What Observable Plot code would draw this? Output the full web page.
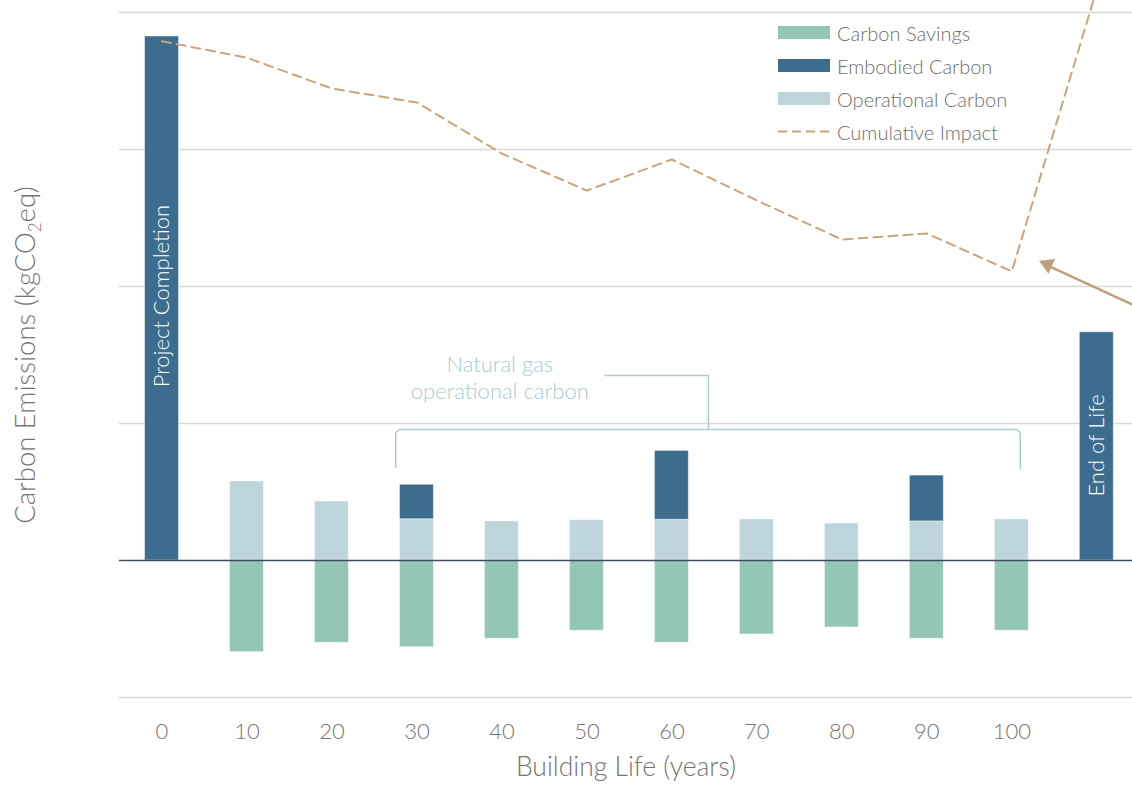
<!DOCTYPE html>
<html><head><meta charset="utf-8">
<script src="https://cdn.jsdelivr.net/npm/d3@7"></script>
<script src="https://cdn.jsdelivr.net/npm/@observablehq/plot@0.6"></script>
<style>
body{margin:0;background:#fff;font-family:Lato,"Open Sans",sans-serif;}
#wrap{position:relative;width:1132px;height:789px;overflow:hidden;}
#border{position:absolute;left:1px;top:0;width:1px;height:789px;background:#c4c4c4;}
.legend{position:absolute;left:778px;top:16px;font-weight:300;font-size:20px;color:#6e6e6e;}
.row{display:flex;align-items:center;height:33px;}
.sw{width:52px;height:13px;margin-right:7px;}
</style>
</head><body><div id="wrap"><div id="border"></div></div>
<script>
// ---- data ----
const years       = [0, 10, 20, 30, 40, 50, 60, 70, 80, 90, 100, 110];
const operational = [0, 0.577, 0.431, 0.301, 0.285, 0.294, 0.297, 0.300, 0.270, 0.285, 0.300, 0];
const embodied    = [3.825, 0, 0, 0.252, 0, 0, 0.503, 0, 0, 0.335, 0, 1.666];
const savings     = [0, -0.669, -0.601, -0.633, -0.572, -0.513, -0.601, -0.540, -0.489, -0.572, -0.513, 0];
const cumulative  = [3.79, 3.67, 3.445, 3.343, 2.97, 2.70, 2.927, 2.628, 2.343, 2.387, 2.11, 4.17];
const xTicks      = [0, 10, 20, 30, 40, 50, 60, 70, 80, 90, 100];
const gridValues  = [-1, 1, 2, 3, 4];
const seriesNames = ["Carbon Savings", "Embodied Carbon", "Operational Carbon", "Cumulative Impact"];
const barLabels   = [{year: 0, y: 1.93, text: "Project Completion"}, {year: 110, y: 0.84, text: "End of Life"}];
const noteLabel   = [{x: 39.75, y: 1.34, text: "Natural gas\noperational carbon"}];
const bracket     = [[27.5,0.68],[27.5,0.93],[27.9,0.956],[100.6,0.956],[101.0,0.93],[101.0,0.67]];
const connector   = [[52.1,1.35],[64.3,1.35],[64.3,0.956]];
const arrowLine   = [[115.5,1.83],[103.6,2.17]];
const arrowTip    = [{x:104.2, y:2.16}];

const colSav = "#94c6b8", colEmb = "#3c6d8e", colOp = "#bed5db", colCum = "#c8a57f", colNote = "#a9cdd2";
const half = 2;
const rows = years.map((y,i)=>({year:y, op:operational[i], emb:embodied[i], sav:savings[i], cum:cumulative[i]}));

const chart = Plot.plot({
  width:1132, height:789, marginLeft:119, marginRight:0, marginTop:0, marginBottom:92,
  x:{domain:[-5,114.2], axis:null},
  y:{domain:[-1,4.0876], axis:null},
  style:{fontFamily:"Lato, 'Open Sans', sans-serif", background:"white", overflow:"hidden"},
  marks:[
    Plot.ruleY(gridValues,{stroke:"#d9d9d9", strokeWidth:1.5}),
    Plot.rect(rows.filter(d=>d.sav<0),{x1:d=>d.year-half, x2:d=>d.year+half, y1:0, y2:"sav", fill:colSav, stroke:"#fff", strokeOpacity:0.5}),
    Plot.rect(rows.filter(d=>d.op>0),{x1:d=>d.year-half, x2:d=>d.year+half, y1:0, y2:"op", fill:colOp, stroke:"#fff", strokeOpacity:0.5}),
    Plot.rect(rows.filter(d=>d.emb>0),{x1:d=>d.year-half, x2:d=>d.year+half, y1:"op", y2:d=>d.op+d.emb, fill:colEmb, stroke:"#fff", strokeOpacity:0.5}),
    Plot.ruleY([0],{stroke:"#3f4d5e", strokeWidth:1.5}),
    Plot.line(rows,{x:"year", y:"cum", stroke:colCum, strokeWidth:2, strokeDasharray:"9,6", clip:true}),
    Plot.line(bracket,{x:d=>d[0], y:d=>d[1], stroke:colNote, strokeWidth:1.5}),
    Plot.line(connector,{x:d=>d[0], y:d=>d[1], stroke:colNote, strokeWidth:1.5}),
    Plot.line(arrowLine,{x:d=>d[0], y:d=>d[1], stroke:"#c0a07a", strokeWidth:2.5, clip:true}),
    Plot.dot(arrowTip,{x:"x", y:"y", symbol:"triangle", r:6, fill:"#c0a07a", rotate:-66}),
    Plot.text(barLabels,{x:"year", y:"y", text:"text", rotate:-90, fill:"white", fontSize:22, fontWeight:300}),
    Plot.text(noteLabel,{x:"x", y:"y", text:"text", fill:colNote, fontSize:22, fontWeight:300, lineHeight:1.25}),
    Plot.axisX(xTicks,{tickSize:0, tickPadding:26, fontSize:22, fontWeight:300, color:"#757575", label:null}),
    Plot.text(["Building Life (years)"],{frameAnchor:"bottom", dy:78, fontSize:26.5, fontWeight:300, fill:"#757575"}),
    Plot.text(["Carbon Emissions (kgCO2eq)"],{frameAnchor:"left", textAnchor:"middle", dx:-93, dy:6, rotate:-90, fontSize:27.5, fontWeight:300, fill:"#757575"})
  ]
});

// subscript in y label
d3.select(chart).selectAll("text").filter(function(){return this.textContent === "Carbon Emissions (kgCO2eq)";})
  .each(function(){
    const t = d3.select(this); t.text("");
    t.append("tspan").text("Carbon Emissions (kgCO");
    t.append("tspan").attr("font-size",17).attr("dy",6).text("2");
    t.append("tspan").attr("dy",-6).text("eq)");
  });

const wrap = document.getElementById("wrap");
wrap.appendChild(chart);
chart.style.position = "absolute"; chart.style.left = "0"; chart.style.top = "0";

// legend
const legend = document.createElement("div");
legend.className = "legend";
const swatchColors = [colSav, colEmb, colOp, null];
seriesNames.forEach((name,i)=>{
  const row = document.createElement("div"); row.className = "row";
  let sw;
  if (swatchColors[i]) {
    sw = document.createElement("div"); sw.className = "sw"; sw.style.background = swatchColors[i];
  } else {
    sw = document.createElementNS("http://www.w3.org/2000/svg","svg");
    sw.setAttribute("width",52); sw.setAttribute("height",13); sw.style.marginRight = "7px";
    sw.innerHTML = `<line x1="0" x2="52" y1="6.5" y2="6.5" stroke="${colCum}" stroke-width="2" stroke-dasharray="9,5"/>`;
  }
  const lab = document.createElement("span"); lab.textContent = name;
  row.appendChild(sw); row.appendChild(lab); legend.appendChild(row);
});
wrap.appendChild(legend);
</script>
</body></html>
